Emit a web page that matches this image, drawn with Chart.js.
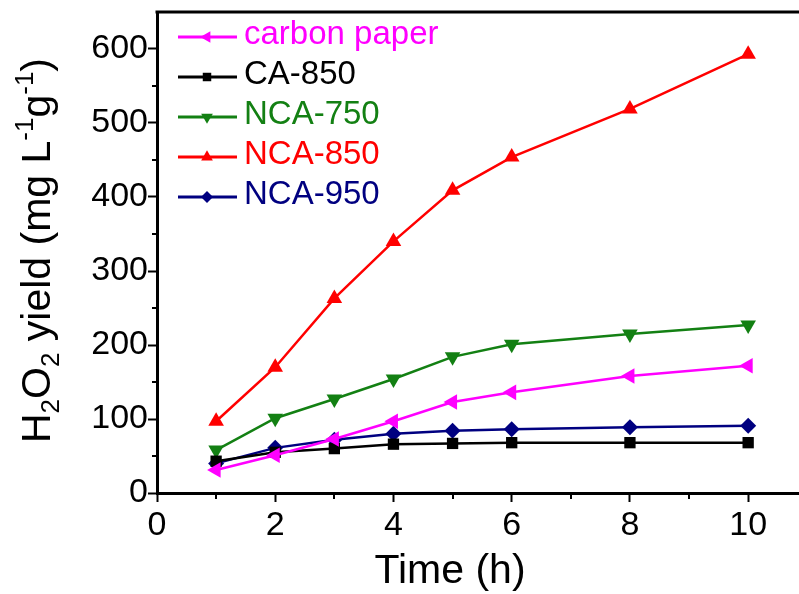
<!DOCTYPE html>
<html>
<head>
<meta charset="utf-8">
<script src="https://cdn.jsdelivr.net/npm/chart.js@4.4.1/dist/chart.umd.min.js"></script>
<style>
  body { margin: 0; background: #fff; }
  canvas { display: block; }
</style>
</head>
<body>
<canvas id="yieldChart" width="799" height="594"></canvas>
<script>
/****************************** Data ********************************/
const times = [1, 2, 3, 4, 5, 6, 8, 10];
const carbonPaper = [31, 51, 73, 97, 123, 136, 158, 172];
const ca850 = [43, 55, 60, 66, 67, 68, 68, 68];
const nca750 = [58, 101, 127, 154, 184, 201, 215, 227];
const nca850 = [97, 170, 263, 340, 409, 454, 519, 593];
const nca950 = [40, 61, 72, 80, 84, 86, 89, 91];

const seriesNames = ["carbon paper", "CA-850", "NCA-750", "NCA-850", "NCA-950"];
const seriesColors = ["#FF00FF", "#000000", "#138013", "#FF0000", "#000080"];
const xTicks = [0, 2, 4, 6, 8, 10];
const yTicks = [0, 100, 200, 300, 400, 500, 600];

const FONT = "'Liberation Sans', Arial, sans-serif";

function toPoints(values) {
    return times.map((t, i) => ({ x: t, y: values[i] }));
}

// marker look for each series
const markers = [
    { pointStyle: 'triangle', rotation: -90, radius: 9 },
    { pointStyle: 'rect', rotation: 0, radius: 8 },
    { pointStyle: 'triangle', rotation: 180, radius: 9 },
    { pointStyle: 'triangle', rotation: 0, radius: 9 },
    { pointStyle: 'rectRot', rotation: 0, radius: 8 }
];

const allValues = [carbonPaper, ca850, nca750, nca850, nca950];

const datasets = allValues.map((vals, i) => ({
    label: seriesNames[i],
    data: toPoints(vals),
    borderColor: seriesColors[i],
    backgroundColor: seriesColors[i],
    borderWidth: 2.5,
    pointStyle: markers[i].pointStyle,
    pointRotation: markers[i].rotation,
    pointRadius: markers[i].radius,
    pointBorderWidth: 0,
    showLine: true,
    fill: false
}));

/****************************** Extras: frame, minor ticks, titles, legend ********************************/
const extras = {
    id: 'extras',
    afterDraw(chart) {
        const ctx = chart.ctx;
        const area = chart.chartArea;
        const xs = chart.scales.x;
        const ys = chart.scales.y;
        ctx.save();

        // top frame line
        ctx.strokeStyle = '#000';
        ctx.lineWidth = 3;
        ctx.beginPath();
        ctx.moveTo(area.left - 1.5, area.top);
        ctx.lineTo(area.right, area.top);
        ctx.stroke();

        // minor ticks
        ctx.lineWidth = 2;
        ctx.beginPath();
        for (let v = 1; v < xs.max; v += 2) {
            const px = Math.round(xs.getPixelForValue(v));
            ctx.moveTo(px, area.bottom);
            ctx.lineTo(px, area.bottom + 6);
        }
        for (let v = 50; v < ys.max; v += 100) {
            const py = Math.round(ys.getPixelForValue(v));
            ctx.moveTo(area.left, py);
            ctx.lineTo(area.left - 5, py);
        }
        ctx.stroke();

        // x title
        ctx.fillStyle = '#000';
        ctx.font = '41px ' + FONT;
        ctx.textAlign = 'center';
        ctx.textBaseline = 'alphabetic';
        ctx.fillText('Time (h)', 450, 583);

        // y title with sub/superscripts
        const parts = [
            { t: 'H', s: 0 }, { t: '2', s: 1 }, { t: 'O', s: 0 }, { t: '2', s: 1 },
            { t: ' yield (mg L', s: 0 }, { t: '-1', s: -1 }, { t: 'g', s: 0 },
            { t: '-1', s: -1 }, { t: ')', s: 0 }
        ];
        ctx.save();
        ctx.translate(50, 443);
        ctx.rotate(-Math.PI / 2);
        ctx.textAlign = 'left';
        let pos = 0;
        parts.forEach(p => {
            ctx.font = (p.s === 0 ? '41px ' : '26px ') + FONT;
            const dy = p.s === 1 ? 9 : (p.s === -1 ? -17 : 0);
            ctx.fillText(p.t, pos, dy);
            pos += ctx.measureText(p.t).width;
        });
        ctx.restore();

        // legend
        chart.data.datasets.forEach((ds, i) => {
            const y = 37 + i * 40;
            ctx.strokeStyle = ds.borderColor;
            ctx.lineWidth = 3;
            ctx.beginPath();
            ctx.moveTo(178, y);
            ctx.lineTo(237, y);
            ctx.stroke();
            ctx.fillStyle = ds.borderColor;
            Chart.helpers.drawPoint(ctx, {
                pointStyle: ds.pointStyle,
                rotation: ds.pointRotation,
                radius: ds.pointRadius * 0.75,
                borderWidth: 0
            }, 207, y);
            ctx.font = '33px ' + FONT;
            ctx.textAlign = 'left';
            ctx.textBaseline = 'middle';
            ctx.fillText(ds.label, 244, y - 2);
        });

        ctx.restore();
    }
};

/****************************** Chart ********************************/
new Chart(document.getElementById('yieldChart'), {
    type: 'scatter',
    data: { datasets: datasets },
    options: {
        responsive: false,
        animation: false,
        layout: { autoPadding: false, padding: { top: 12, right: 0, left: 0, bottom: 0 } },
        plugins: {
            legend: { display: false },
            tooltip: { enabled: false }
        },
        scales: {
            x: {
                type: 'linear',
                min: 0,
                max: 10.86,
                afterFit: (scale) => {
                    scale.height = 101;
                    scale.paddingLeft = 0;
                    scale.paddingRight = 0;
                },
                afterBuildTicks: (scale) => { scale.ticks = xTicks.map(v => ({ value: v })); },
                border: { color: '#000', width: 3 },
                grid: { drawOnChartArea: false, tickLength: 9, tickWidth: 2, tickColor: '#000' },
                ticks: { color: '#000', font: { family: FONT, size: 34 }, padding: 3, maxRotation: 0 }
            },
            y: {
                min: 0,
                max: 650,
                afterFit: (scale) => {
                    scale.width = 157;
                    scale.paddingTop = 0;
                    scale.paddingBottom = 0;
                },
                afterBuildTicks: (scale) => { scale.ticks = yTicks.map(v => ({ value: v })); },
                border: { color: '#000', width: 3 },
                grid: { drawOnChartArea: false, tickLength: 9, tickWidth: 2, tickColor: '#000' },
                ticks: { color: '#000', font: { family: FONT, size: 34 }, padding: 0 }
            }
        }
    },
    plugins: [extras]
});
</script>
</body>
</html>
